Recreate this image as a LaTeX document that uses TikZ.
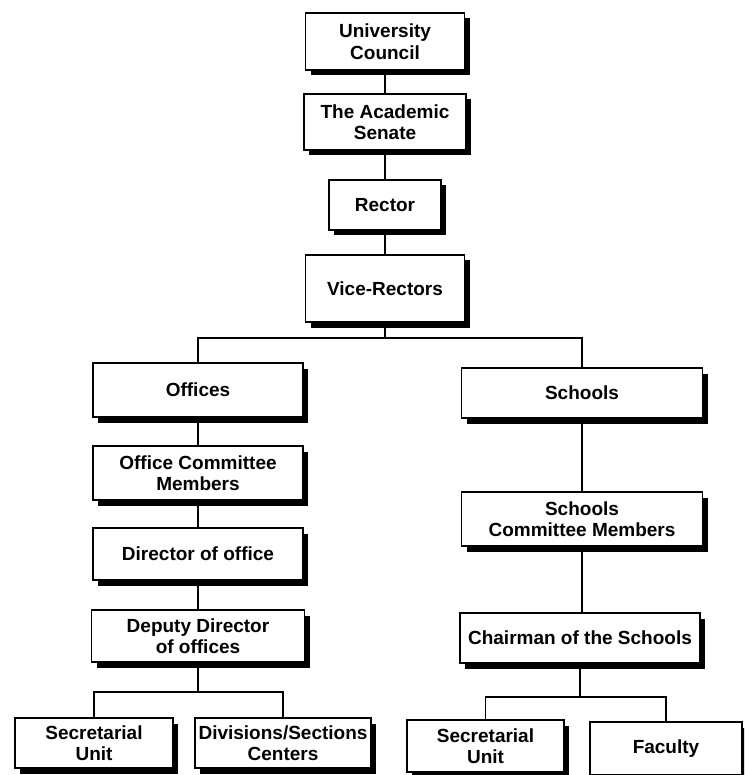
\documentclass[tikz,border=0pt]{standalone}
\usepackage{fontspec}
\setmainfont{Liberation Sans}
\usetikzlibrary{shadows}
\begin{document}
\begin{tikzpicture}[x=1pt,y=-1pt,
  orgbox/.style={draw=black, line width=1.3pt, fill=white, align=center,
    inner sep=0pt, font=\fontsize{19}{21.5}\selectfont\bfseries,
    general shadow={fill=black, shadow xshift=5pt, shadow yshift=-5.5pt}},
  link/.style={line width=1.8pt}]
\useasboundingbox (0,0) rectangle (744,775);
\clip (0,0) rectangle (744,775);
\fill[white] (0,0) rectangle (744,775);

% central column
\node[orgbox, minimum width=159pt, minimum height=57pt] (uc) at (385,41.5) {University\\Council};
\node[orgbox, minimum width=162pt, minimum height=56pt] (as) at (385,122) {The Academic\\Senate};
\node[orgbox, minimum width=112pt, minimum height=50pt] (rector) at (385,205) {Rector};
\node[orgbox, minimum width=159pt, minimum height=67pt] (vr) at (385,288.5) {Vice-Rectors};
\coordinate (j1) at (385,338);

% offices branch
\node[orgbox, minimum width=210pt, minimum height=54pt] (offices) at (198,390) {Offices};
\node[orgbox, minimum width=210pt, minimum height=54pt] (ocm) at (198,473) {Office Committee\\Members};
\node[orgbox, minimum width=210pt, minimum height=52pt] (dir) at (198,554) {Director of office};
\node[orgbox, minimum width=213pt, minimum height=52pt] (dep) at (198,636) {Deputy Director\\of offices};
\coordinate (j2) at (198,692);
\node[orgbox, minimum width=158pt, minimum height=50pt] (secl) at (94,743) {Secretarial\\Unit};
\node[orgbox, minimum width=176pt, minimum height=50pt] (div) at (283,743) {Divisions/Sections\\Centers};

% schools branch
\node[orgbox, minimum width=241pt, minimum height=50pt] (schools) at (582,393) {Schools};
\node[orgbox, minimum width=241pt, minimum height=54pt] (scm) at (582,519) {Schools\\Committee Members};
\node[orgbox, minimum width=240pt, minimum height=50pt] (chair) at (580,638) {Chairman of the Schools};
\coordinate (j3) at (580,697);
\node[orgbox, minimum width=157pt, minimum height=52pt] (secr) at (485.5,746) {Secretarial\\Unit};
\node[orgbox, minimum width=152pt, minimum height=53pt] (fac) at (666,748.5) {Faculty};

% connectors
\draw[link] (uc.south) -- (as.north);
\draw[link] (as.south) -- (rector.north);
\draw[link] (rector.south) -- (vr.north);
\draw[link] (vr.south) -- (j1);
\draw[link] (offices.north) |- (j1) -| (schools.north);
\draw[link] (offices.south) -- (ocm.north);
\draw[link] (ocm.south) -- (dir.north);
\draw[link] (dir.south) -- (dep.north);
\draw[link] (dep.south) -- (j2);
\draw[link] (secl.north) |- (j2) -| (div.north);
\draw[link] (schools.south) -- (schools.south |- scm.north);
\draw[link] (scm.south) -- (scm.south |- chair.north);
\draw[link] (chair.south) -- (j3);
\draw[link] (secr.north) |- (j3) -| (fac.north);
\end{tikzpicture}
\end{document}
